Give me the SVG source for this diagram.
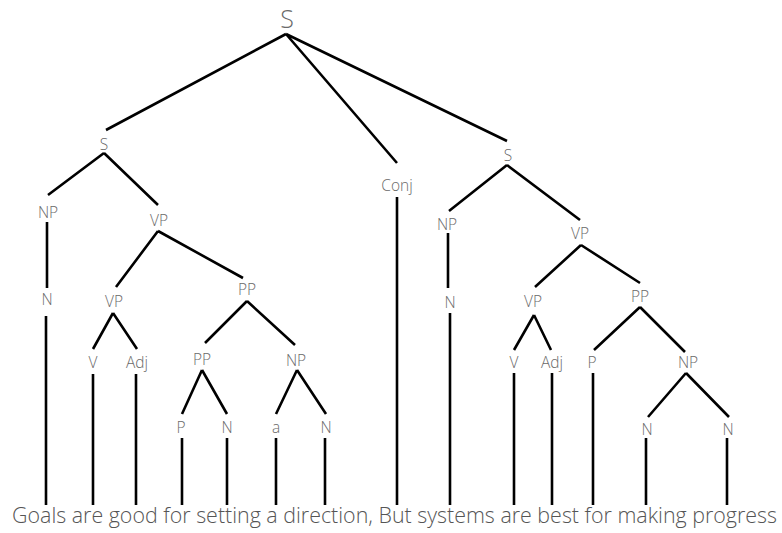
<svg xmlns="http://www.w3.org/2000/svg" width="782" height="533" viewBox="0 0 782 533">
<style>
.e{stroke:#000;stroke-width:2.6;fill:none;stroke-linecap:butt}
.l{font-family:"Open Sans","Liberation Sans",sans-serif;font-size:15.5px;font-weight:300;fill:#6a6a6a;text-anchor:middle}
.r{font-size:25px}
.s{font-family:"Open Sans","Liberation Sans",sans-serif;font-size:22px;font-weight:300;fill:#555}
</style>
<rect width="782" height="533" fill="#fff"/>
<g id="connectors" class="e">
<path d="M286 34L106 130M286 34L397 163M286 34L507 141"/>
<path d="M104 153L48 195M104 153L158 205"/>
<path d="M47 222V288M46 316V505"/>
<path d="M158 231L116 287M158 231L243 278"/>
<path d="M113 313L93 349M113 313L137 349M93 374V505M136 374V505"/>
<path d="M247 301L205 343M247 301L295 345"/>
<path d="M202 370L182 414M202 370L227 414M297 370L276 414M297 370L326 414"/>
<path d="M182 438V505M227 438V505M276 438V505M325 438V505"/>
<path d="M397 197V505"/>
<path d="M507 165L449 211M507 165L580 220"/>
<path d="M448 233V288M450 313V505"/>
<path d="M581 245L535 287M581 245L640 283"/>
<path d="M534 315L514 350M534 315L551 350M514 373V505M552 373V505"/>
<path d="M640 307L594 350M640 307L685 352"/>
<path d="M593 373V505"/>
<path d="M686 373L648 417M686 373L729 417M646 438V505M727 438V505"/>
</g>
<g id="root"><text class="l r" x="287" y="28">S</text></g>
<g id="s1"><text class="l" x="104" y="150">S</text></g>
<g id="np1"><text class="l" x="48" y="218">NP</text></g>
<g id="n1"><text class="l" x="47" y="305">N</text></g>
<g id="vp1"><text class="l" x="159" y="226">VP</text></g>
<g id="vp1b"><text class="l" x="114" y="307">VP</text></g>
<g id="v1"><text class="l" x="93" y="368">V</text></g>
<g id="adj1"><text class="l" x="137" y="368">Adj</text></g>
<g id="pp1"><text class="l" x="247" y="295">PP</text></g>
<g id="pp1b"><text class="l" x="202" y="365">PP</text></g>
<g id="np1b"><text class="l" x="296" y="366">NP</text></g>
<g id="p1"><text class="l" x="181" y="433">P</text></g>
<g id="n1b"><text class="l" x="227" y="433">N</text></g>
<g id="a1"><text class="l" x="276" y="433">a</text></g>
<g id="n1c"><text class="l" x="326" y="433">N</text></g>
<g id="conj"><text class="l" x="397" y="191">Conj</text></g>
<g id="s2"><text class="l" x="508" y="161">S</text></g>
<g id="np2"><text class="l" x="447" y="230">NP</text></g>
<g id="n2"><text class="l" x="450" y="308">N</text></g>
<g id="vp2"><text class="l" x="580" y="239">VP</text></g>
<g id="vp2b"><text class="l" x="533" y="307">VP</text></g>
<g id="v2"><text class="l" x="514" y="368">V</text></g>
<g id="adj2"><text class="l" x="552" y="368">Adj</text></g>
<g id="pp2"><text class="l" x="640" y="302">PP</text></g>
<g id="p2"><text class="l" x="592" y="368">P</text></g>
<g id="np2b"><text class="l" x="688" y="368">NP</text></g>
<g id="n2b"><text class="l" x="647" y="435">N</text></g>
<g id="n2c"><text class="l" x="728" y="435">N</text></g>
<g id="sentence"><text class="s" x="12" y="523" textLength="765" lengthAdjust="spacingAndGlyphs">Goals are good for setting a direction, But systems are best for making progress</text></g>
</svg>
